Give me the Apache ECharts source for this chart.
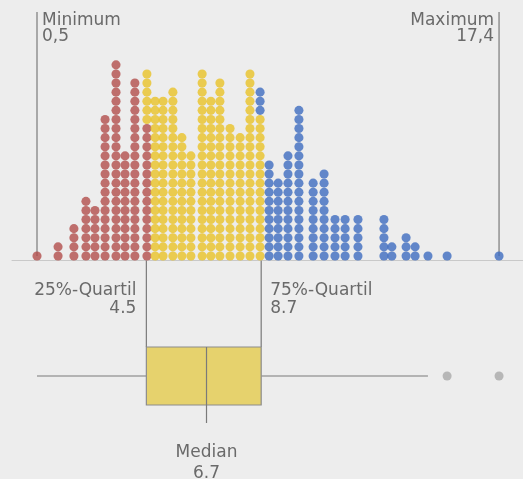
<!DOCTYPE html>
<html><head><meta charset="utf-8">
<script src="https://cdn.jsdelivr.net/npm/echarts@6/dist/echarts.min.js"></script>
<style>html,body{margin:0;padding:0;background:#ededed}#c{width:523px;height:479px}</style>
</head><body><div id="c"></div>
<script>
// ---- DATA ----
// value (x) of each dot stack
const columnValues = [0.5,1.27,1.85,2.29,2.62,2.99,3.39,3.72,4.08,4.52,
  4.82,5.11,5.47,5.80,6.13,6.54,6.86,7.19,7.56,7.93,8.29,8.66,
  8.99,9.32,9.68,10.08,10.60,11.00,11.40,11.77,12.24,13.19,13.48,14.00,14.33,14.80,15.50,17.40];
// dots per stack, lowest quarter (red)
const redCounts = [1,2,4,7,6,16,22,12,20,15,
  0,0,0,0,0,0,0,0,0,0,0,0,
  0,0,0,0,0,0,0,0,0,0,0,0,0,0,0,0];
// dots per stack, middle half (yellow)
const yellowCounts = [0,0,0,0,0,0,0,0,0,6,
  18,18,19,14,12,21,18,20,15,14,21,16,
  0,0,0,0,0,0,0,0,0,0,0,0,0,0,0,0];
// dots per stack, upper quarter (blue)
const blueCounts = [0,0,0,0,0,0,0,0,0,0,
  0,0,0,0,0,0,0,0,0,0,0,3,
  11,9,12,17,9,10,5,5,5,5,2,3,2,1,1,1];
// box plot statistics
const minimum = 0.5, q1 = 4.5, median = 6.7, q3 = 8.7, upperWhisker = 14.8, maximum = 17.4;
const outliers = [15.5, 17.4];
const labelMin = 'Minimum', labelMax = 'Maximum', labelQ1 = '25%-Quartil', labelQ3 = '75%-Quartil', labelMed = 'Median';

// ---- LAYOUT / STYLE ----
const pxPerUnit = 27.34, valueAtX37 = 0.5, gridLeft = 12, W = 523;
const xMin = valueAtX37 - (37 - gridLeft) / pxPerUnit;
const xMax = valueAtX37 + (W - 37) / pxPerUnit;
const axisY = 260.5, pitch = 9.1, yMax = 27.3;
const FONT = '17px "DejaVu Sans"';
const TEXT = '#6a6a6a';
const LINE = '#7a7a7a';
const colors = {red:'#b24d4b', yellow:'#e8c227', blue:'#3d6cbf'};

function stackData() {
  const red = [], yellow = [], blue = [];
  columnValues.forEach((v, i) => {
    let lvl = 0;
    for (let k = 0; k < redCounts[i]; k++) red.push([v, (lvl++) + 0.5]);
    for (let k = 0; k < yellowCounts[i]; k++) yellow.push([v, (lvl++) + 0.5]);
    for (let k = 0; k < blueCounts[i]; k++) blue.push([v, (lvl++) + 0.5]);
  });
  return {red, yellow, blue};
}
const d = stackData();
const fmtComma = v => String(v).replace('.', ',');

const chart = echarts.init(document.getElementById('c'), null, {renderer:'canvas'});
const dotStyle = c => ({type:'scatter', xAxisIndex:0, yAxisIndex:0, symbol:'circle', symbolSize:9.1,
  itemStyle:{color:c}, silent:true, z:3});

chart.setOption({
  backgroundColor:'#ededed',
  animation:false,
  grid:[
    {left:gridLeft, right:0, top:axisY - yMax*pitch, height:yMax*pitch},
    {left:gridLeft, right:0, top:347, height:58}
  ],
  xAxis:[
    {type:'value', gridIndex:0, min:xMin, max:xMax, axisLine:{show:true, lineStyle:{color:'#c9c9c9', width:1}},
     axisTick:{show:false}, axisLabel:{show:false}, splitLine:{show:false}},
    {type:'value', gridIndex:1, min:xMin, max:xMax, show:false, splitLine:{show:false}}
  ],
  yAxis:[
    {type:'value', gridIndex:0, min:0, max:yMax, show:false, splitLine:{show:false}},
    {type:'category', gridIndex:1, data:['box'], show:false}
  ],
  series:[
    {type:'custom', xAxisIndex:0, yAxisIndex:0, z:2, silent:true,
     data:[[minimum, maximum]],
     renderItem:function(params, api){
       const mn = api.value(0), mx = api.value(1);
       const pTopMin = api.coord([mn, yMax]), pBotMin = api.coord([mn, 0.5]);
       const pTopMax = api.coord([mx, yMax]), pBotMax = api.coord([mx, 0.5]);
       const ls = {stroke:LINE, lineWidth:1.2};
       return {type:'group', children:[
         {type:'line', shape:{x1:pTopMin[0], y1:pTopMin[1], x2:pBotMin[0], y2:pBotMin[1]}, style:ls},
         {type:'line', shape:{x1:pTopMax[0], y1:pTopMax[1], x2:pBotMax[0], y2:pBotMax[1]}, style:ls},
         {type:'text', x:pTopMin[0]+5, y:pTopMin[1]+1, style:{text:labelMin+'\n'+fmtComma(mn), fill:TEXT, font:FONT, lineHeight:16, align:'left', verticalAlign:'top'}},
         {type:'text', x:pTopMax[0]-5, y:pTopMax[1]+1, style:{text:labelMax+'\n'+fmtComma(mx), fill:TEXT, font:FONT, lineHeight:16, align:'right', verticalAlign:'top'}}
       ]};
     }},
    Object.assign(dotStyle(colors.red), {data:d.red}),
    Object.assign(dotStyle(colors.yellow), {data:d.yellow}),
    Object.assign(dotStyle(colors.blue), {data:d.blue}),
    {type:'custom', xAxisIndex:1, yAxisIndex:1, z:2, silent:true,
     data:[[minimum, q1, median, q3, upperWhisker]],
     renderItem:function(params, api){
       const c = api.coord([api.value(0), 0]);
       const cy = c[1];
       const h = api.size([0, 1])[1];
       const x = k => api.coord([api.value(k), 0])[0];
       const xMn = x(0), xQ1 = x(1), xMd = x(2), xQ3 = x(3), xHi = x(4);
       const top = cy - h/2, bot = cy + h/2;
       const ls = {stroke:LINE, lineWidth:1.2};
       const gapUp = top - axisY;
       return {type:'group', children:[
         {type:'line', shape:{x1:xMn, y1:cy, x2:xQ1, y2:cy}, style:ls},
         {type:'line', shape:{x1:xQ3, y1:cy, x2:xHi, y2:cy}, style:ls},
         {type:'line', shape:{x1:xQ1, y1:top, x2:xQ1, y2:top-gapUp}, style:ls},
         {type:'line', shape:{x1:xQ3, y1:top, x2:xQ3, y2:top-gapUp}, style:ls},
         {type:'rect', shape:{x:xQ1, y:top, width:xQ3-xQ1, height:h}, style:{fill:'#e6d26d', stroke:'#8c8c8c', lineWidth:1.2}},
         {type:'line', shape:{x1:xMd, y1:top, x2:xMd, y2:bot+18}, style:ls},
         {type:'text', x:xQ1-10, y:top-65, style:{text:labelQ1+'\n'+q1.toFixed(1), fill:TEXT, font:FONT, lineHeight:18, align:'right', verticalAlign:'top'}},
         {type:'text', x:xQ3+9, y:top-65, style:{text:labelQ3+'\n'+q3.toFixed(1), fill:TEXT, font:FONT, lineHeight:18, align:'left', verticalAlign:'top'}},
         {type:'text', x:xMd, y:bot+37, style:{text:labelMed+'\n'+median.toFixed(1), fill:TEXT, font:FONT, lineHeight:21, align:'center', verticalAlign:'top'}}
       ]};
     }},
    {type:'scatter', xAxisIndex:1, yAxisIndex:1, symbol:'circle', symbolSize:9, silent:true,
     itemStyle:{color:'#a9a9a9'}, data:outliers.map(v => [v, 0])}
  ]
});
</script></body></html>
